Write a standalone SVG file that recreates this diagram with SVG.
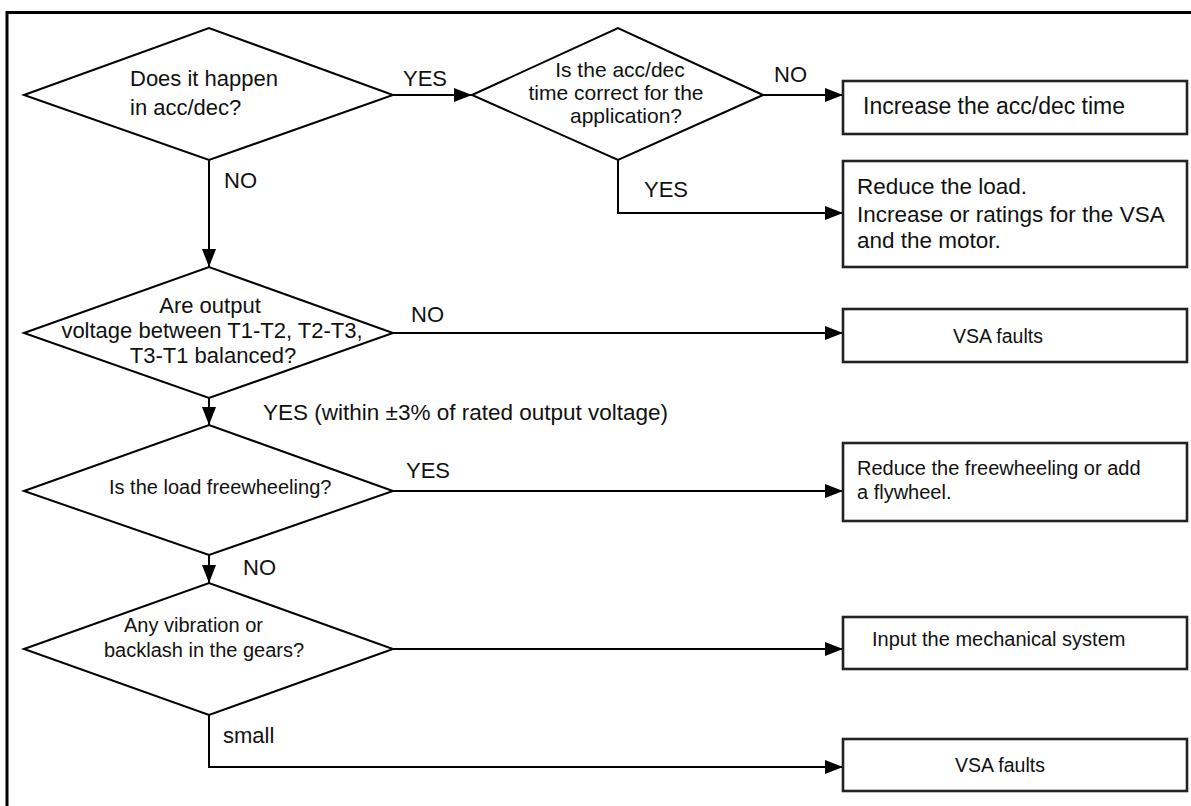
<svg xmlns="http://www.w3.org/2000/svg" width="1191" height="806" viewBox="0 0 1191 806">
<style>
.d{fill:#fff;stroke:#000;stroke-width:2}
.b{fill:#fff;stroke:#222;stroke-width:2.6}
.c{fill:none;stroke:#000;stroke-width:2}
text{font-family:"Liberation Sans",Arial,sans-serif;fill:#111}
.t22{font-size:22px}
.t21{font-size:21px}
.t20{font-size:20px}
.lb{font-size:22px}
.m{text-anchor:middle}
</style>
<defs>
<marker id="ah" markerUnits="userSpaceOnUse" markerWidth="18" markerHeight="14" refX="18" refY="7" orient="auto">
<path d="M0,0 L18,7 L0,14 z" fill="#000"/>
</marker>
</defs>
<rect width="1191" height="806" fill="#fff"/>
<path d="M7,806 V12.5 H1191" fill="none" stroke="#000" stroke-width="3"/>

<g id="connectors">
<path class="c" d="M393,95 H472" marker-end="url(#ah)"/>
<path class="c" d="M763,95 H843" marker-end="url(#ah)"/>
<path class="c" d="M618,160 V213 H843" marker-end="url(#ah)"/>
<path class="c" d="M209,160 V267" marker-end="url(#ah)"/>
<path class="c" d="M393,333 H843" marker-end="url(#ah)"/>
<path class="c" d="M209,398 V425" marker-end="url(#ah)"/>
<path class="c" d="M393,491 H843" marker-end="url(#ah)"/>
<path class="c" d="M209,555 V583" marker-end="url(#ah)"/>
<path class="c" d="M393,649 H843" marker-end="url(#ah)"/>
<path class="c" d="M209,715 V767 H843" marker-end="url(#ah)"/>
<text class="lb" x="403" y="86">YES</text>
<text class="lb" x="224" y="188">NO</text>
<text class="lb" x="774" y="82">NO</text>
<text class="lb" x="644" y="197">YES</text>
<text class="lb" x="411" y="322">NO</text>
<text x="263" y="420" style="font-size:22.5px">YES (within ±3% of rated output voltage)</text>
<text class="lb" x="406" y="478">YES</text>
<text class="lb" x="243" y="575">NO</text>
<text class="lb" x="223" y="743">small</text>
</g>

<g id="d1">
<polygon class="d" points="24,95 209,28 393,95 209,160"/>
<text class="t22" x="130" y="86">Does it happen</text>
<text class="t22" x="130" y="115">in acc/dec?</text>
</g>

<g id="d2">
<polygon class="d" points="472,95 618,28 763,95 618,160"/>
<text class="t21 m" x="620" y="77">Is the acc/dec</text>
<text class="t21 m" x="616" y="100">time correct for the</text>
<text class="t21 m" x="626" y="123">application?</text>
</g>

<g id="b1">
<rect class="b" x="843" y="81" width="344" height="53"/>
<text x="863" y="114" style="font-size:23px">Increase the acc/dec time</text>
</g>

<g id="b2">
<rect class="b" x="843" y="161" width="344" height="106"/>
<text x="857" y="194" style="font-size:22.5px">Reduce the load.</text>
<text x="857" y="222" style="font-size:22.5px">Increase or ratings for the VSA</text>
<text x="857" y="248" style="font-size:22.5px">and the motor.</text>
</g>

<g id="d3">
<polygon class="d" points="24,333 209,267 393,333 209,398"/>
<text class="t22 m" x="210" y="313">Are output</text>
<text class="t22 m" x="212" y="338">voltage between T1-T2, T2-T3,</text>
<text class="t22 m" x="213" y="363">T3-T1 balanced?</text>
</g>

<g id="b3">
<rect class="b" x="843" y="309" width="344" height="53"/>
<text x="953" y="343" style="font-size:19.5px">VSA faults</text>
</g>

<g id="d4">
<polygon class="d" points="24,491 209,425 393,491 209,555"/>
<text class="t20" x="109" y="494">Is the load freewheeling?</text>
</g>

<g id="b4">
<rect class="b" x="843" y="443" width="344" height="78"/>
<text class="t20" x="857" y="475">Reduce the freewheeling or add</text>
<text class="t20" x="857" y="499">a flywheel.</text>
</g>

<g id="d5">
<polygon class="d" points="24,649 209,583 393,649 209,715"/>
<text class="t20" x="124" y="632">Any vibration or</text>
<text class="t20" x="104" y="657">backlash in the gears?</text>
</g>

<g id="b5">
<rect class="b" x="843" y="617" width="344" height="52"/>
<text class="t20" x="872" y="646">Input the mechanical system</text>
</g>

<g id="b6">
<rect class="b" x="843" y="739" width="344" height="52"/>
<text x="955" y="772" style="font-size:19.5px">VSA faults</text>
</g>
</svg>
